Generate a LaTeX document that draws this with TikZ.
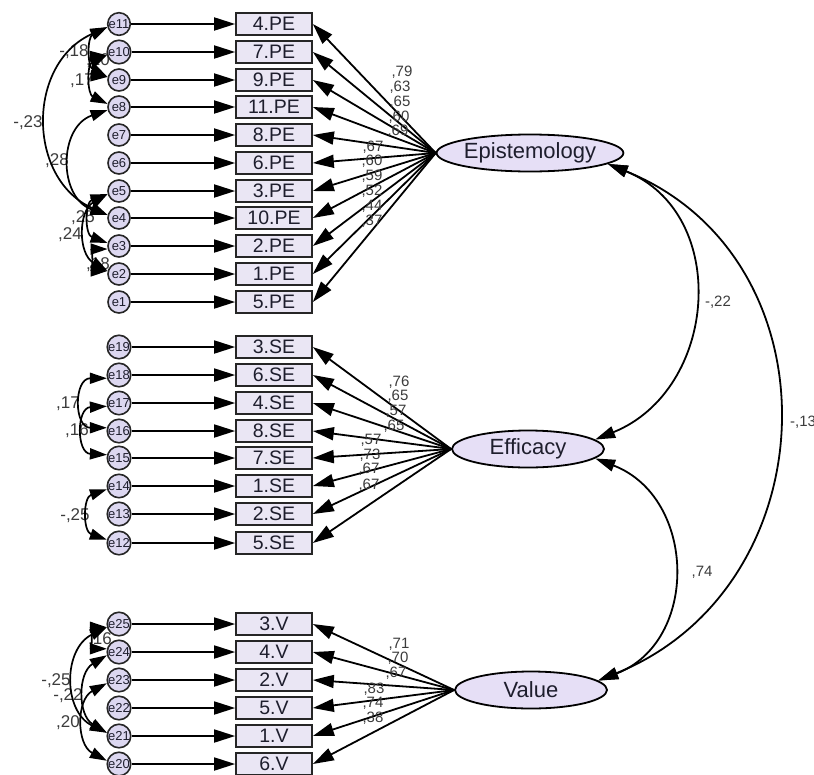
\documentclass[tikz,border=0pt]{standalone}
\usepackage{fontspec}
\setmainfont{Liberation Sans}
\usetikzlibrary{shapes.geometric,arrows.meta}
\definecolor{latfill}{RGB}{230,223,246}
\definecolor{boxfill}{RGB}{234,230,244}
\definecolor{errfill}{RGB}{220,215,240}
\definecolor{txt}{RGB}{30,30,45}
\definecolor{lbl}{RGB}{60,60,60}
\begin{document}
\begin{tikzpicture}[x=1pt,y=1pt,
  obs/.style={draw=black!85,line width=1.7pt,fill=boxfill,minimum width=76pt,minimum height=22pt,inner sep=0pt,font=\fontsize{19.5}{20}\selectfont,text=txt},
  err/.style={circle,draw=black!85,line width=1.6pt,fill=errfill,minimum size=22pt,inner sep=0pt,font=\fontsize{13}{13}\selectfont,text=txt},
  lat/.style={ellipse,draw=black,line width=1.8pt,fill=latfill,minimum width=152pt,minimum height=37pt,inner sep=0pt,font=\fontsize{22}{22}\selectfont,text=txt},
  reg/.style={line width=1.8pt,-{Triangle[length=21pt,width=13pt]}},
  cov/.style={line width=1.7pt,{Triangle[length=17pt,width=11pt]}-{Triangle[length=17pt,width=11pt]}},
  lcov/.style={line width=1.8pt,{Triangle[length=20pt,width=12pt]}-{Triangle[length=20pt,width=12pt]}},
  ld/.style={font=\fontsize{15}{15}\selectfont,text=lbl,inner sep=0pt},
  cl/.style={font=\fontsize{17}{17}\selectfont,text=lbl,inner sep=0pt}
]
\useasboundingbox[fill=white] (0,0) rectangle (814,-774);

% covariance labels (drawn first)
\node[cl] (c1) at (74,-52) {-,18};
\node[cl] (c2) at (82,-81) {,17};
\node[cl] (c3) at (28,-123) {-,23};
\node[cl] (c4) at (57,-161) {,28};
\node[cl] (c5) at (83,-218) {,25};
\node[cl] (c6) at (70,-235) {,24};
\node[cl] (c7) at (98,-265) {,18};
\node[cl] (c8) at (98,-61) {,10};
\node[cl] (c9) at (68,-404) {,17};
\node[cl] (c10) at (77,-431) {,16};
\node[cl] (c11) at (75,-516) {-,25};
\node[cl] (c12) at (56,-681) {-,25};
\node[cl] (c13) at (68,-696) {-,22};
\node[cl] (c14) at (68,-723) {,20};
\node[cl] (c15) at (100,-640) {,16};

% latent variables
\node[lat] (epis) at (530,-153) {Epistemology};
\node[lat] (eff) at (528,-449) {Efficacy};
\node[lat] (val) at (531,-690) {Value};

% observed, errors
\foreach \e/\n/\t/\y in {e11/pe4/4.PE/24, e10/pe7/7.PE/52, e9/pe9/9.PE/80, e8/pe11/11.PE/107, e7/pe8/8.PE/135, e6/pe6/6.PE/163, e5/pe3/3.PE/191, e4/pe10/10.PE/218, e3/pe2/2.PE/246, e2/pe1/1.PE/274, e1/pe5/5.PE/302}{
  \node[err] (\e) at (119,-\y) {\e};
  \node[obs] (\n) at (274,-\y) {\t};
  \draw[reg] (\e) -- (\n);
  \draw[reg] (epis.west) -- (\n.east);
}
\foreach \e/\n/\t/\y in {e19/se3/3.SE/347, e18/se6/6.SE/375, e17/se4/4.SE/403, e16/se8/8.SE/431, e15/se7/7.SE/458, e14/se1/1.SE/486, e13/se2/2.SE/514, e12/se5/5.SE/543}{
  \node[err] (\e) at (119,-\y) {\e};
  \node[obs] (\n) at (274,-\y) {\t};
  \draw[reg] (\e) -- (\n);
  \draw[reg] (eff.west) -- (\n.east);
}
\foreach \e/\n/\t/\y in {e25/v3/3.V/624, e24/v4/4.V/652, e23/v2/2.V/680, e22/v5/5.V/708, e21/v1/1.V/736, e20/v6/6.V/764}{
  \node[err] (\e) at (119,-\y) {\e};
  \node[obs] (\n) at (274,-\y) {\t};
  \draw[reg] (\e) -- (\n);
  \draw[reg] (val.west) -- (\n.east);
}

% loading labels
\foreach \v/\x/\y [count=\i] in {{,79}/402/72, {,63}/400/87, {,65}/400/102, {,60}/399/117, {,69}/398/131, {,67}/373/147, {,60}/372/161, {,59}/372/176, {,52}/372/191, {,44}/372/206, {,37}/372/221,
  {,76}/399/382, {,65}/398/396, {,57}/396/411, {,65}/394/426, {,57}/371/440, {,73}/370/455, {,67}/369/469, {,67}/369/485,
  {,71}/399/644, {,70}/398/658, {,67}/396/673, {,83}/374/689, {,74}/373/703, {,38}/373/718}{
  \node[ld] (ld\i) at (\x,-\y) {\v};
}

% error covariances
\draw[cov] (e11.195) to[out=204,in=156,looseness=1.21] (e4.165);
\draw[cov] (e8.195) to[out=199,in=161,looseness=1.28] (e4.165);
\draw[cov] (e11.195) to[out=207,in=153,looseness=1.17] (e9.165);
\draw[cov] (e10.195) to[out=206,in=154,looseness=1.18] (e8.165);
\draw[cov] (e10.195) to[out=184,in=176,looseness=1.59] (e9.165);
\draw[cov] (e5.195) to[out=200,in=160,looseness=1.28] (e3.165);
\draw[cov] (e5.195) to[out=210,in=150,looseness=1.14] (e2.165);
\draw[cov] (e3.195) to[out=180,in=180,looseness=1.73] (e2.165);
\draw[cov] (e18.195) to[out=180,in=180,looseness=1.72] (e16.165);
\draw[cov] (e17.195) to[out=183,in=177,looseness=1.62] (e15.165);
\draw[cov] (e14.195) to[out=199,in=161,looseness=1.29] (e12.165);
\draw[cov] (e25.195) to[out=180,in=180,looseness=1.73] (e24.165);
\draw[cov] (e25.195) to[out=206,in=154,looseness=1.19] (e21.165);
\draw[cov] (e24.195) to[out=211,in=149,looseness=1.13] (e21.165);
\draw[cov] (e23.195) to[out=208,in=152,looseness=1.15] (e20.165);

% latent covariances
\draw[lcov] (epis.-8) to[out=-22,in=22,looseness=1.23] (eff.8);
\draw[lcov] (epis.-8) to[out=-22,in=22,looseness=1.24] (val.8);
\draw[lcov] (eff.-8) to[out=-21,in=21,looseness=1.25] (val.8);
\node[ld] (k1) at (718,-302) {-,22};
\node[ld] (k2) at (702,-572) {,74};
\node[ld,anchor=west] (k3) at (790,-422) {-,13};
\end{tikzpicture}
\end{document}
